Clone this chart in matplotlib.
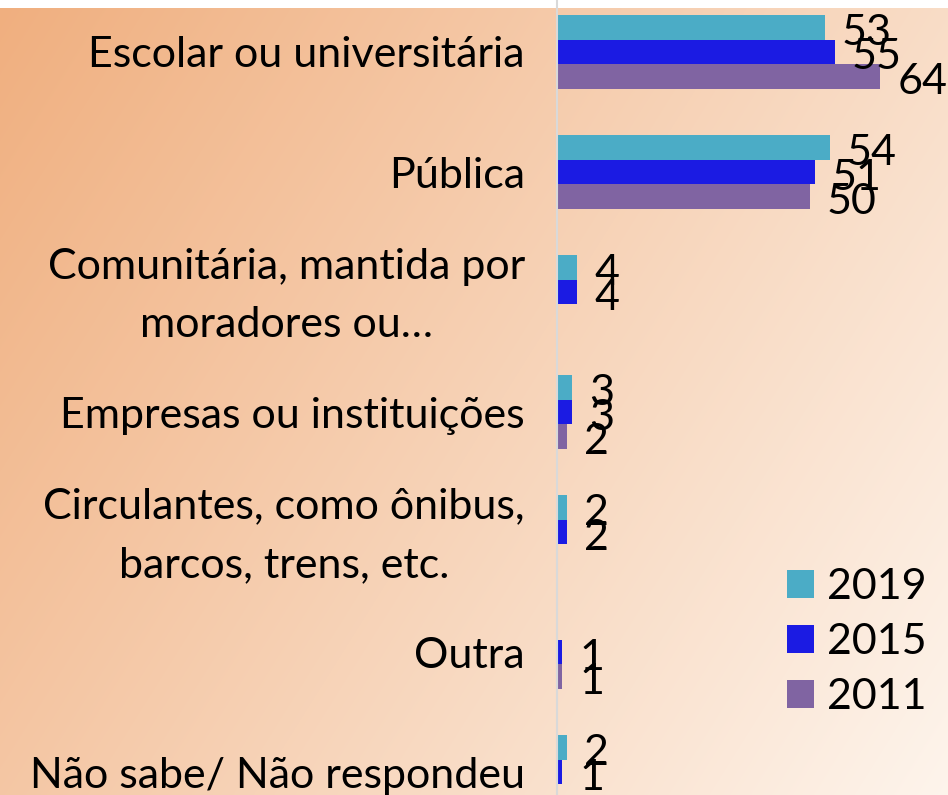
import numpy as np
import matplotlib
matplotlib.use('Agg')
import matplotlib.pyplot as plt

plt.rcParams['font.family'] = ['Lato', 'DejaVu Sans']

categories = ['Escolar ou universitária', 'Pública',
              'Comunitária, mantida por\nmoradores ou…',
              'Empresas ou instituições',
              'Circulantes, como ônibus,\nbarcos, trens, etc.',
              'Outra', 'Não sabe/ Não respondeu']
years = ['2019', '2015', '2011']
v2019 = [53, 54, 4, 3, 2, np.nan, 2]
v2015 = [55, 51, 4, 3, 2, 1, 1]
v2011 = [64, 50, np.nan, 2, np.nan, 1, np.nan]
colors = ['#4BACC6', '#1B1BE3', '#8064A2']

W, H = 948, 795
fig = plt.figure(figsize=(W / 100, H / 100), dpi=100)
fig.patch.set_facecolor('white')

# diagonal orange -> cream background (below a thin white strip)
bg = fig.add_axes([0, 0, 1, 787 / H])
xx, yy = np.meshgrid(np.arange(W), np.arange(787))
t = np.clip(0.00067 * xx + 0.00042 * yy, 0, 1)[..., None]
c0 = np.array([240, 175, 127]) / 255
c1 = np.array([254, 247, 240]) / 255
bg.imshow(c0 + (c1 - c0) * t, aspect='auto', interpolation='bilinear')
bg.axis('off')

ax = fig.add_axes([557 / W, 0, 1 - 557 / W, 1])
ax.set_facecolor('none')
px = 5.05  # pixels per unit
ax.set_xlim(0, (W - 557) / px)
ax.set_ylim(6.19, -0.433)

fs = 31
y = np.arange(len(categories))
h = 0.204
series = [v2019, v2015, v2011]
for i, (vals, col, lab) in enumerate(zip(series, colors, years)):
    pos = y + (i - 1) * h
    ax.barh(pos, vals, height=h, color=col, label=lab)
    for p, v in zip(pos, vals):
        if np.isnan(v):
            continue
        ax.annotate('%d' % v, (v, p), xytext=(17, -17.5),
                    textcoords='offset pixels', ha='left', va='baseline',
                    fontsize=fs, color='black', annotation_clip=False)

# category labels drawn by hand so the two-line ones can sit a bit higher
ax.set_yticks(y)
ax.set_yticklabels([])
for yi, cat in zip(y, categories):
    dy = 10 if '\n' in cat else 0
    ax.annotate(cat, (0, yi), xytext=(-32, dy), textcoords='offset pixels',
                ha='right', va='center_baseline', multialignment='center',
                linespacing=1.65, fontsize=fs, color='black',
                annotation_clip=False)
ax.tick_params(axis='y', length=0)
ax.set_xticks([])
for s in ['top', 'right', 'bottom']:
    ax.spines[s].set_visible(False)
ax.spines['left'].set_color('#D9D9D9')
ax.spines['left'].set_linewidth(1.5)

ax.legend(loc='center left', bbox_to_anchor=(787 / W, 1 - 642 / H),
          bbox_transform=fig.transFigure, frameon=False, fontsize=fs,
          handlelength=0.63, handleheight=0.63, handletextpad=0.3,
          labelspacing=0.39, borderpad=0, borderaxespad=0)

fig.savefig('out.png', dpi=100)
